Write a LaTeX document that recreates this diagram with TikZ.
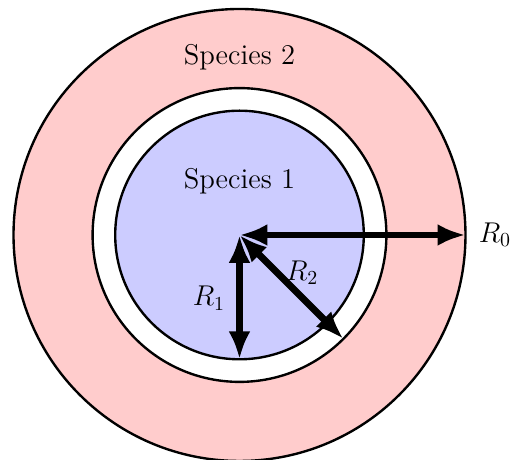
\documentclass[tikz,border=0pt]{standalone}
\usetikzlibrary{arrows.meta}
\begin{document}
\begin{tikzpicture}[
  ring/.style={draw=black, line width=1.2pt},
  radarrow/.style={line width=3.4pt, {Latex[length=14pt,width=11pt]}-{Latex[length=14pt,width=11pt]}, shorten <=0pt, shorten >=0pt},
  lbl/.style={font=\Large, inner sep=1pt}
]
\useasboundingbox (-4.239,-3.965) rectangle (4.823,4.159);
\coordinate (c) at (0,0);
\fill[red!20] (c) circle (4);
\draw[ring] (c) circle (4);
\fill[white] (c) circle (2.6);
\draw[ring] (c) circle (2.6);
\fill[blue!20] (c) circle (2.2);
\draw[ring] (c) circle (2.2);
\node[lbl] (sp2) at (0,3.15) {Species 2};
\node[lbl] (sp1) at (0,0.955) {Species 1};
\coordinate (e0) at (4,0);
\coordinate (e1) at (0,-2.2);
\coordinate (e2) at (-45:2.6);
\draw[radarrow] (c) -- (e0);
\draw[radarrow] (c) -- (e1);
\draw[radarrow] (c) -- (e2);
\node[lbl] (r0) at (4.52,0) {$R_0$};
\node[lbl] (r1) at (-0.54,-1.12) {$R_1$};
\node[lbl] (r2) at (1.11,-0.67) {$R_2$};
\end{tikzpicture}
\end{document}
